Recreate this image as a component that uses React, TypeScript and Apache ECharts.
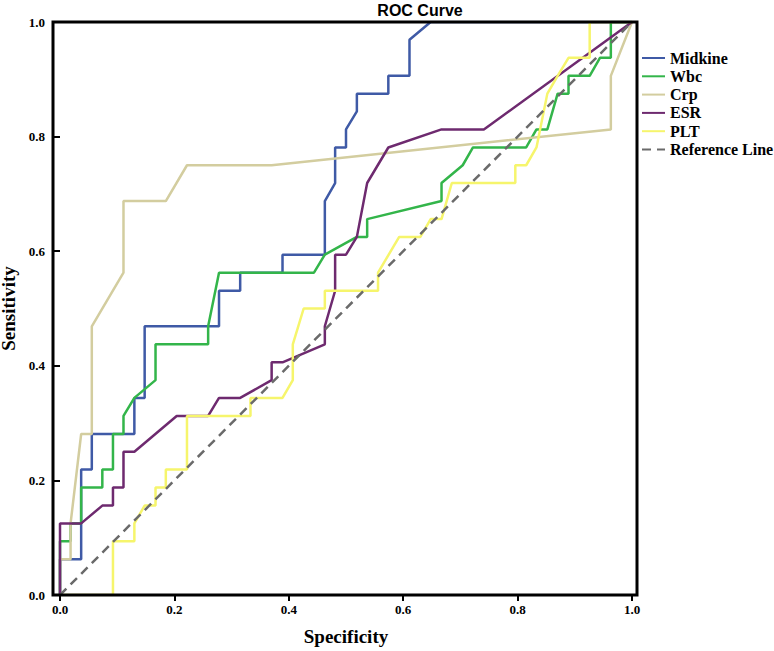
import React, { useEffect, useRef } from "react";
import * as echarts from "echarts";

const seriesNames = ["Midkine", "Wbc", "Crp", "ESR", "PLT", "Reference Line"];
const tickValues = [0, 0.2, 0.4, 0.6, 0.8, 1.0];

const midkine: number[][] = [
  [0, 0], [0, 0.0625], [0.037, 0.0625], [0.037, 0.219], [0.0556, 0.219], [0.0556, 0.281],
  [0.13, 0.281], [0.13, 0.344], [0.148, 0.344], [0.148, 0.469], [0.278, 0.469], [0.278, 0.531],
  [0.315, 0.531], [0.315, 0.5625], [0.389, 0.5625], [0.389, 0.594], [0.463, 0.594], [0.463, 0.6875],
  [0.481, 0.719], [0.481, 0.781], [0.5, 0.781], [0.5, 0.8125], [0.519, 0.844], [0.519, 0.875],
  [0.574, 0.875], [0.574, 0.906], [0.611, 0.906], [0.611, 0.969], [0.648, 1], [1, 1],
];

const wbc: number[][] = [
  [0, 0], [0, 0.094], [0.0185, 0.094], [0.0185, 0.125], [0.037, 0.125], [0.037, 0.1875],
  [0.074, 0.1875], [0.074, 0.219], [0.0926, 0.219], [0.0926, 0.281], [0.111, 0.281], [0.111, 0.3125],
  [0.13, 0.344], [0.167, 0.375], [0.167, 0.4375], [0.259, 0.4375], [0.259, 0.469], [0.278, 0.5625],
  [0.444, 0.5625], [0.463, 0.594], [0.519, 0.625], [0.537, 0.625], [0.537, 0.656], [0.667, 0.6875],
  [0.667, 0.719], [0.704, 0.75], [0.722, 0.781], [0.815, 0.781], [0.833, 0.8125], [0.852, 0.8125],
  [0.87, 0.875], [0.889, 0.875], [0.889, 0.906], [0.926, 0.906], [0.944, 0.9375], [0.963, 0.9375],
  [0.963, 1], [1, 1],
];

const crp: number[][] = [
  [0, 0], [0, 0.0625], [0.0185, 0.0625], [0.0185, 0.125], [0.037, 0.281], [0.0556, 0.281],
  [0.0556, 0.469], [0.111, 0.5625], [0.111, 0.6875], [0.185, 0.6875], [0.222, 0.75], [0.37, 0.75],
  [0.963, 0.8125], [0.963, 0.906], [1, 1],
];

const esr: number[][] = [
  [0, 0], [0, 0.125], [0.037, 0.125], [0.074, 0.156], [0.0926, 0.156], [0.0926, 0.1875],
  [0.111, 0.1875], [0.111, 0.25], [0.13, 0.25], [0.204, 0.3125], [0.259, 0.3125], [0.278, 0.344],
  [0.315, 0.344], [0.37, 0.375], [0.37, 0.406], [0.389, 0.406], [0.463, 0.4375], [0.463, 0.469],
  [0.481, 0.531], [0.481, 0.594], [0.5, 0.594], [0.519, 0.625], [0.537, 0.719], [0.574, 0.781],
  [0.667, 0.8125], [0.741, 0.8125], [1, 1],
];

const plt: number[][] = [
  [0, 0], [0.0926, 0], [0.0926, 0.094], [0.13, 0.094], [0.13, 0.125], [0.148, 0.156],
  [0.167, 0.156], [0.167, 0.1875], [0.185, 0.1875], [0.185, 0.219], [0.222, 0.219], [0.222, 0.3125],
  [0.333, 0.3125], [0.333, 0.344], [0.389, 0.344], [0.407, 0.375], [0.407, 0.4375], [0.426, 0.5],
  [0.463, 0.5], [0.463, 0.531], [0.556, 0.531], [0.556, 0.5625], [0.593, 0.625], [0.63, 0.625],
  [0.648, 0.656], [0.667, 0.656], [0.685, 0.719], [0.796, 0.719], [0.796, 0.75], [0.815, 0.75],
  [0.833, 0.781], [0.852, 0.875], [0.87, 0.906], [0.889, 0.9375], [0.926, 0.9375], [0.926, 1], [1, 1],
];

const referenceLine: number[][] = [[0, 0], [1, 1]];

const seriesData = [midkine, wbc, crp, esr, plt, referenceLine];
const colors = ["#3f5aa6", "#33b54a", "#d3cd9f", "#6e2a6f", "#f6f56c", "#6a6a6a"];

const SERIF = "'Liberation Serif', 'Times New Roman', serif";

export default function App() {
  const ref = useRef<HTMLDivElement>(null);
  useEffect(() => {
    document.body.style.margin = "0";
    if (!ref.current) return;
    const chart = echarts.init(ref.current, undefined, { renderer: "svg" });
    const labelStyle = {
      fontFamily: SERIF,
      fontWeight: "bold" as const,
      fontSize: 13,
      color: "#000",
      formatter: (v: number) => v.toFixed(1),
    };
    chart.setOption({
      animation: false,
      backgroundColor: "#fff",
      title: {
        text: "ROC Curve",
        left: 420,
        top: 0,
        textAlign: "center",
        padding: [2, 0, 0, 0],
        textStyle: { fontFamily: "'Liberation Sans', Arial, sans-serif", fontWeight: "bold", fontSize: 16, color: "#000" },
      },
      legend: {
        orient: "vertical",
        left: 636,
        top: 44,
        itemWidth: 23,
        itemHeight: 14,
        itemGap: 0.3,
        data: seriesNames,
        itemStyle: { opacity: 0, borderWidth: 0 },
        textStyle: { fontFamily: SERIF, fontWeight: "bold", fontSize: 16, color: "#000", lineHeight: 18 },
      },
      grid: { left: 60, right: 142, top: 22, bottom: 56, containLabel: false, outerBoundsMode: "none" },
      xAxis: {
        type: "value",
        min: tickValues[0],
        max: tickValues[tickValues.length - 1],
        interval: 0.2,
        axisLine: { show: false },
        axisTick: { show: true, length: 6, lineStyle: { color: "#000", width: 2 } },
        axisLabel: { ...labelStyle, margin: 8 },
        splitLine: { show: false },
        name: "Specificity",
        nameLocation: "middle",
        nameGap: 31.5,
        nameTextStyle: { fontFamily: SERIF, fontWeight: "bold", fontSize: 19, color: "#000" },
      },
      yAxis: {
        type: "value",
        min: tickValues[0],
        max: tickValues[tickValues.length - 1],
        interval: 0.2,
        offset: 7,
        axisLine: { show: false },
        axisTick: { show: true, length: 6, lineStyle: { color: "#000", width: 2 } },
        axisLabel: { ...labelStyle, margin: 8 },
        splitLine: { show: false },
        name: "Sensitivity",
        nameLocation: "middle",
        nameGap: 28,
        nameTextStyle: { fontFamily: SERIF, fontWeight: "bold", fontSize: 19, lineHeight: 19, color: "#000" },
      },
      series: seriesNames.map((name, i) => ({
        name,
        type: "line",
        data: seriesData[i],
        symbol: "none",
        color: colors[i],
        lineStyle: {
          color: colors[i],
          width: 2.5,
          type: i === 5 ? [9, 6] : "solid",
        },
        z: 2 + i,
      })),
      graphic: [
        {
          type: "rect",
          z: 100,
          shape: { x: 53, y: 22, width: 584, height: 573 },
          style: { fill: "none", stroke: "#000", lineWidth: 3 },
          silent: true,
        },
      ],
    });
    return () => chart.dispose();
  }, []);
  return <div ref={ref} style={{ width: 774, height: 651 }} />;
}
